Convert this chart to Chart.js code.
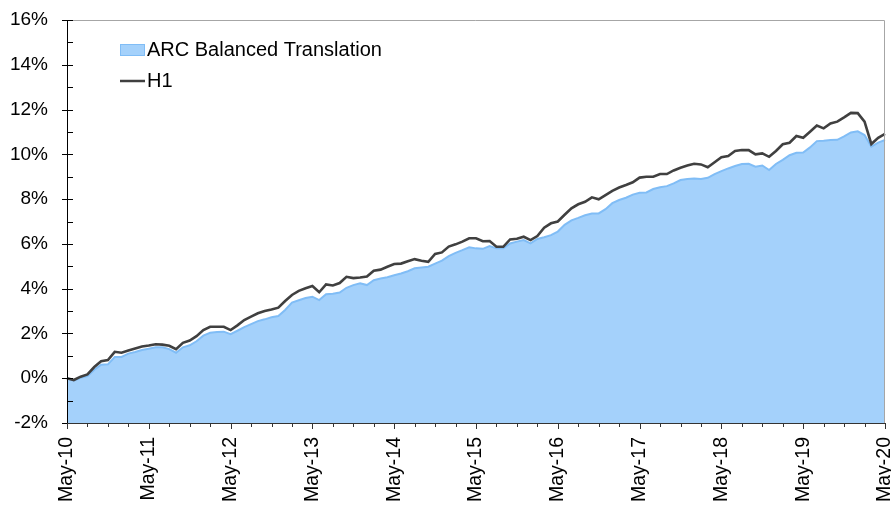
<!DOCTYPE html>
<html>
<head>
<meta charset="utf-8">
<script src="https://cdn.jsdelivr.net/npm/chart.js@4/dist/chart.umd.min.js"></script>
<style>
  html, body { margin: 0; padding: 0; background: #fff; }
</style>
</head>
<body>
<canvas id="chart" width="891" height="505"></canvas>
<script>
// month labels May-10 .. May-20
const monthNames = ['May', 'Jun', 'Jul', 'Aug', 'Sep', 'Oct', 'Nov', 'Dec', 'Jan', 'Feb', 'Mar', 'Apr'];
const months = [];
for (let i = 0; i <= 120; i++) {
  const yr = 10 + Math.floor((i + 4) / 12);
  months.push(monthNames[i % 12] + '-' + String(yr).padStart(2, '0'));
}

const yTicks = [-2, 0, 2, 4, 6, 8, 10, 12, 14, 16];

// cumulative return, %
const arcBalanced = [
  0.00, -0.10, 0.02, 0.10, 0.38, 0.60, 0.62, 0.95, 0.95, 1.10, 1.17, 1.26,
  1.32, 1.38, 1.38, 1.30, 1.14, 1.38, 1.47, 1.65, 1.90, 2.03, 2.06, 2.08,
  1.97, 2.12, 2.28, 2.42, 2.55, 2.63, 2.72, 2.78, 3.05, 3.38, 3.48, 3.58,
  3.64, 3.49, 3.75, 3.77, 3.83, 4.04, 4.16, 4.24, 4.16, 4.38, 4.45, 4.51,
  4.60, 4.68, 4.78, 4.91, 4.95, 4.98, 5.12, 5.25, 5.45, 5.60, 5.72, 5.85,
  5.80, 5.78, 5.90, 5.80, 5.80, 6.02, 6.10, 6.17, 6.02, 6.22, 6.30, 6.39,
  6.55, 6.85, 7.05, 7.16, 7.28, 7.36, 7.36, 7.55, 7.82, 7.96, 8.06, 8.20,
  8.28, 8.30, 8.45, 8.53, 8.58, 8.70, 8.85, 8.90, 8.92, 8.90, 8.95, 9.12,
  9.25, 9.37, 9.48, 9.57, 9.58, 9.45, 9.50, 9.30, 9.57, 9.75, 9.96, 10.07,
  10.08, 10.31, 10.59, 10.61, 10.64, 10.65, 10.80, 10.98, 11.03, 10.86, 10.34, 10.52,
  10.64
];

const h1 = [
  0.00, -0.08, 0.07, 0.17, 0.50, 0.76, 0.81, 1.18, 1.14, 1.24, 1.33, 1.42,
  1.46, 1.52, 1.50, 1.45, 1.30, 1.58, 1.68, 1.88, 2.15, 2.30, 2.30, 2.30,
  2.15, 2.36, 2.60, 2.75, 2.90, 3.00, 3.07, 3.15, 3.45, 3.72, 3.90, 4.02,
  4.12, 3.84, 4.19, 4.14, 4.25, 4.53, 4.47, 4.50, 4.54, 4.80, 4.85, 4.98,
  5.10, 5.12, 5.22, 5.32, 5.25, 5.20, 5.55, 5.62, 5.88, 5.98, 6.10, 6.25,
  6.25, 6.12, 6.13, 5.87, 5.87, 6.20, 6.23, 6.32, 6.17, 6.35, 6.72, 6.92,
  7.00, 7.30, 7.59, 7.77, 7.88, 8.08, 7.99, 8.18, 8.37, 8.52, 8.63, 8.75,
  8.96, 9.00, 9.00, 9.12, 9.12, 9.28, 9.40, 9.50, 9.58, 9.55, 9.42, 9.65,
  9.87, 9.92, 10.15, 10.19, 10.19, 10.00, 10.04, 9.89, 10.15, 10.45, 10.52, 10.82,
  10.74, 11.01, 11.29, 11.16, 11.38, 11.46, 11.65, 11.85, 11.84, 11.46, 10.46, 10.74,
  10.91
];

const FONT = "'Liberation Sans', Arial, sans-serif";
const AREA_FILL = '#a4d1fb';
const AREA_EDGE = '#80bdf6';
const LINE_COL = '#404040';

// axes ticks, frame and legend drawn by hand (Excel-like look)
const decor = {
  id: 'decor',
  afterDraw(chart) {
    const { ctx, chartArea: a, scales } = chart;
    const x = scales.x, y = scales.y;
    ctx.save();

    ctx.strokeStyle = '#a6a6a6';
    ctx.lineWidth = 1;
    ctx.beginPath();
    ctx.moveTo(a.left, a.top + 0.5);
    ctx.lineTo(a.right - 0.5, a.top + 0.5);
    ctx.lineTo(a.right - 0.5, a.bottom);
    ctx.stroke();

    ctx.strokeStyle = '#000';
    ctx.beginPath();
    ctx.moveTo(a.left + 0.5, a.top);
    ctx.lineTo(a.left + 0.5, a.bottom);
    for (let v = yTicks[0]; v <= yTicks[yTicks.length - 1]; v++) {
      const py = Math.round(y.getPixelForValue(v)) + 0.5;
      const major = v % 2 === 0;
      ctx.moveTo(major ? a.left - 5 : a.left, py);
      ctx.lineTo(a.left + 6, py);
    }
    ctx.stroke();

    ctx.strokeStyle = '#333';
    ctx.beginPath();
    ctx.moveTo(a.left, a.bottom + 0.5);
    ctx.lineTo(a.right, a.bottom + 0.5);
    for (let i = 0; i < months.length; i += 3) {
      const px = Math.round(x.getPixelForValue(i)) + 0.5;
      ctx.moveTo(px, a.bottom);
      ctx.lineTo(px, a.bottom + (i % 12 === 0 ? 6 : 4));
    }
    ctx.stroke();

    // legend
    ctx.font = '20px ' + FONT;
    ctx.textBaseline = 'middle';
    ctx.fillStyle = AREA_FILL;
    ctx.fillRect(120, 44, 25, 12);
    ctx.strokeStyle = AREA_EDGE;
    ctx.lineWidth = 1;
    ctx.strokeRect(120.5, 44.5, 24, 11);
    ctx.fillStyle = '#000';
    ctx.fillText('ARC Balanced Translation', 147, 50);
    ctx.strokeStyle = LINE_COL;
    ctx.lineWidth = 2.5;
    ctx.beginPath();
    ctx.moveTo(120, 81);
    ctx.lineTo(145, 81);
    ctx.stroke();
    ctx.fillText('H1', 147, 81);

    ctx.restore();
  }
};

new Chart(document.getElementById('chart'), {
  type: 'line',
  data: {
    labels: months,
    datasets: [
      {
        label: 'ARC Balanced Translation',
        data: arcBalanced,
        order: 2,
        fill: 'start',
        backgroundColor: AREA_FILL,
        borderColor: AREA_EDGE,
        borderWidth: 2,
        pointRadius: 0,
        tension: 0
      },
      {
        label: 'H1',
        data: h1,
        order: 1,
        fill: false,
        borderColor: LINE_COL,
        borderWidth: 2.6,
        pointRadius: 0,
        tension: 0
      }
    ]
  },
  options: {
    responsive: false,
    animation: false,
    layout: { padding: { top: 20, right: 6, left: 0, bottom: 0 } },
    plugins: {
      legend: { display: false },
      tooltip: { enabled: false }
    },
    scales: {
      x: {
        type: 'category',
        offset: false,
        grid: { display: false, drawTicks: false },
        border: { display: false },
        ticks: {
          autoSkip: false,
          minRotation: 90,
          maxRotation: 90,
          padding: 14,
          color: '#000',
          font: { family: FONT, size: 19.5 },
          callback: (v, i) => (i % 12 === 0 ? months[i] : '')
        },
        afterFit: s => { s.height = 82; s.paddingLeft = 0; s.paddingRight = 0; }
      },
      y: {
        min: -2,
        max: 16,
        grid: { display: false, drawTicks: false },
        border: { display: false },
        ticks: {
          stepSize: 2,
          padding: 19,
          color: '#000',
          font: { family: FONT, size: 19 },
          callback: v => v + '%'
        },
        afterFit: s => { s.width = 67; s.paddingTop = 0; s.paddingBottom = 0; }
      }
    }
  },
  plugins: [decor]
});
</script>
</body>
</html>
